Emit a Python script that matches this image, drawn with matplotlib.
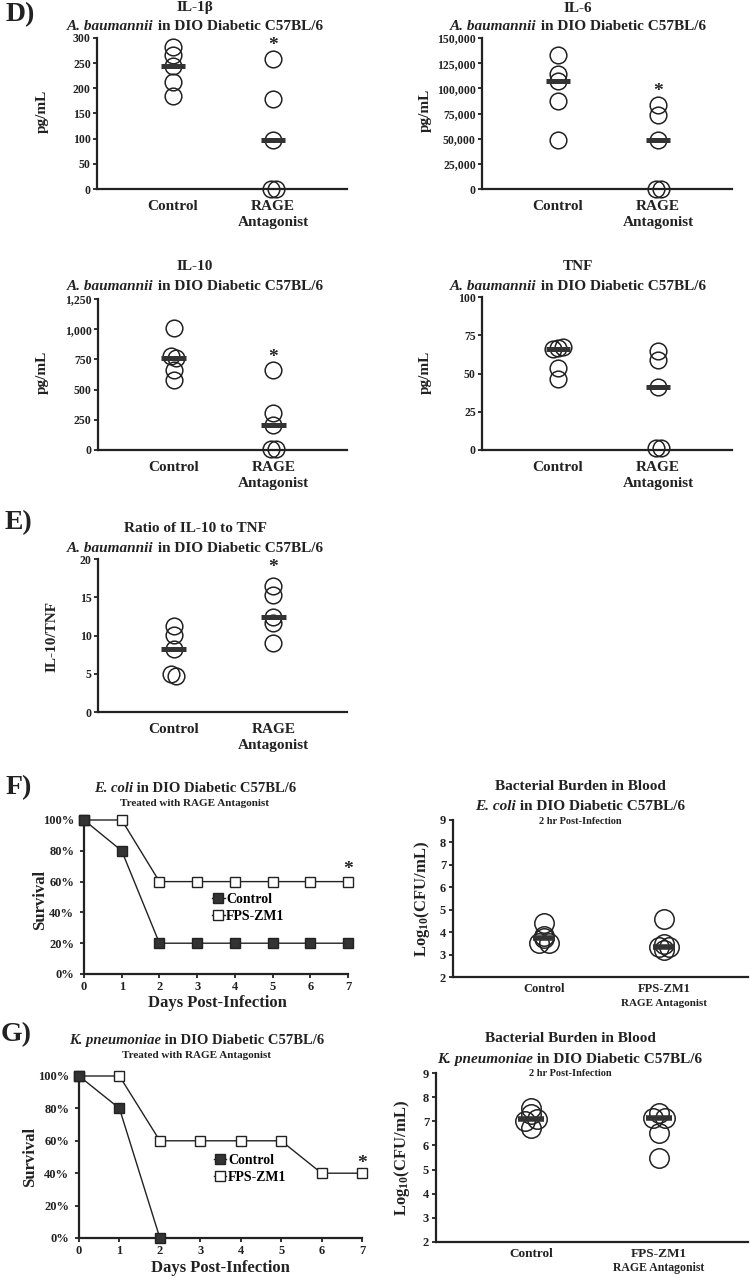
import numpy as np
import matplotlib
matplotlib.use('Agg')
import matplotlib.pyplot as plt
from matplotlib.ticker import FuncFormatter

plt.rcParams['font.family'] = ['Liberation Serif', 'DejaVu Serif']
plt.rcParams['font.weight'] = 'bold'
plt.rcParams['mathtext.fontset'] = 'custom'
plt.rcParams['mathtext.rm'] = 'Liberation Serif:bold'
plt.rcParams['mathtext.it'] = 'Liberation Serif:italic:bold'
plt.rcParams['mathtext.bf'] = 'Liberation Serif:bold'
plt.rcParams['mathtext.default'] = 'rm'

INK = '#222222'
BAR = '#333333'

# ---- data ----
cyto_groups = ['Control', 'RAGE\nAntagonist']
il1b_ctrl = [282, 266, 244, 213, 185]
il1b_rage = [259, 178, 98, 0, 0]
il6_ctrl = [133500, 114000, 107000, 87700, 48800]
il6_rage = [83400, 73500, 48800, 0, 0]
il10_ctrl = [1010, 780, 762, 665, 580]
il10_rage = [663, 309, 205, 12, 12]
tnf_ctrl = [66, 66.5, 67, 53.7, 46.7]
tnf_rage = [65, 59, 41, 1.5, 1.5]
ratio_ctrl = [11.3, 10.1, 8.2, 5.0, 4.7]
ratio_rage = [16.5, 15.3, 12.4, 11.6, 9.0]

days = np.arange(8)
ecoli_surv_ctrl = [100, 80, 20, 20, 20, 20, 20, 20]
ecoli_surv_fps = [100, 100, 60, 60, 60, 60, 60, 60]
kpn_surv_ctrl = [100, 80, 0]
kpn_surv_fps = [100, 100, 60, 60, 60, 60, 40, 40]

burden_groups = ['Control', 'FPS-ZM1']
ecoli_burden_ctrl = [4.42, 3.85, 3.72, 3.53, 3.53]
ecoli_burden_fps = [4.57, 3.48, 3.35, 3.35, 3.2]
kpn_burden_ctrl = [7.53, 7.29, 7.02, 7.08, 6.74]
kpn_burden_fps = [7.36, 7.15, 7.15, 6.5, 5.49]

W, H = 750, 1278
fig = plt.figure(figsize=(W / 100, H / 100), dpi=100)
renderer = fig.canvas.get_renderer()


def add_ax(l, t, r, b):
    return fig.add_axes([l / W, 1 - b / H, (r - l) / W, (b - t) / H])


def ftext(x, y, s, size, **kw):
    kw.setdefault('ha', 'center')
    kw.setdefault('va', 'center')
    return fig.text(x / W, 1 - y / H, s, fontsize=size, color=INK, **kw)


def mixed(x, y, italic, rest, size):
    # italic species name followed by upright text, centred on x, sharing a baseline
    t1 = ftext(0, y, italic, size, style='italic', ha='left', va='center_baseline')
    t2 = ftext(0, y, rest, size, ha='left', va='center_baseline')
    w1 = t1.get_window_extent(renderer).width
    w2 = t2.get_window_extent(renderer).width
    x0 = x - (w1 + w2) / 2
    t1.set_x(x0 / W)
    t2.set_x((x0 + w1) / W)


def style(ax, ysize=8.5, ypad=1.5):
    for s in ['top', 'right']:
        ax.spines[s].set_visible(False)
    for s in ['left', 'bottom']:
        ax.spines[s].set_color(INK)
        ax.spines[s].set_linewidth(1.6)
    ax.tick_params(axis='y', direction='out', length=3, width=1.3, colors=INK,
                   labelsize=ysize, pad=ypad)
    ax.patch.set_alpha(0)


def cluster_offsets(vals, tol, step):
    # spread nearly-equal values sideways so the circles stay visible
    vals = np.asarray(vals, float)
    order = np.argsort(vals, kind='stable')
    offs = np.zeros(len(vals))
    groups = [[order[0]]]
    for a, b in zip(order[:-1], order[1:]):
        if vals[b] - vals[a] < tol:
            groups[-1].append(b)
        else:
            groups.append([b])
    for g in groups:
        g = sorted(g)
        for k, i in enumerate(g):
            offs[i] = (k - (len(g) - 1) / 2) * step
    return offs


def dots(ax, series, ylim, step, half, ms, barw):
    tol = 0.017 * (ylim[1] - ylim[0])
    for pos, vals in enumerate(series, start=1):
        x = pos + cluster_offsets(vals, tol, step)
        ax.plot(x, vals, 'o', ms=ms, mfc='none', mec=INK, mew=1.1,
                clip_on=False, zorder=3)
        med = np.median(vals)
        ax.plot([pos - half, pos + half], [med, med], color=BAR, lw=barw,
                solid_capstyle='butt', zorder=4)
    ax.set_ylim(*ylim)


def cyto_panel(rect, ctrl, rage, ylim, yticks, fmt, ylabel, ylab_xy,
               title, title_pos, star=None):
    ax = add_ax(*rect)
    style(ax)
    ax.set_xlim(0.24, 2.74)
    dots(ax, [ctrl, rage], ylim, 0.05, 0.123, 12, 3.6)
    ax.set_yticks(yticks)
    ax.yaxis.set_major_formatter(FuncFormatter(fmt))
    ax.set_xticks([1, 2])
    ax.set_xticklabels(cyto_groups, fontsize=11, color=INK, linespacing=1.3)
    ax.tick_params(axis='x', length=0, pad=8)
    if star is not None:
        ax.text(2, star, '*', ha='center', va='center', fontsize=14, color=INK)
    ftext(ylab_xy[0], ylab_xy[1], ylabel, 11, rotation=90)
    tx, ty1, ty2 = title_pos
    ftext(tx, ty1, title, 11)
    mixed(tx, ty2, 'A. baumannii', ' in DIO Diabetic C57BL/6', 11)
    return ax


comma = lambda v, p: f'{int(v):,}'

cyto_panel((97, 38, 347, 189), il1b_ctrl, il1b_rage, (0, 300), range(0, 301, 50),
           comma, 'pg/mL', (42, 111), 'IL-1β', (195, 8, 25), star=285.5)
cyto_panel((482, 38, 732, 189), il6_ctrl, il6_rage, (0, 150000),
           range(0, 150001, 25000), comma, 'pg/mL', (425, 110), 'IL-6',
           (578, 8, 25), star=97350)
cyto_panel((98, 299, 347, 450), il10_ctrl, il10_rage, (0, 1250),
           range(0, 1251, 250), comma, 'pg/mL', (42, 372), 'IL-10',
           (195, 267, 285), star=765)
cyto_panel((482, 297, 732, 450), tnf_ctrl, tnf_rage, (0, 100), range(0, 101, 25),
           comma, 'pg/mL', (425, 372), 'TNF', (578, 267, 285))
cyto_panel((98, 559, 347, 712), ratio_ctrl, ratio_rage, (0, 20), range(0, 21, 5),
           comma, 'IL-10/TNF', (52, 637), 'Ratio of IL-10 to TNF',
           (195, 528, 547), star=18.9)


def surv_panel(rect, ctrl, fps, species, title_xy, ylab_xy, xlab_xy, leg_xy, star):
    ax = add_ax(*rect)
    style(ax, ysize=9, ypad=4)
    ax.plot(days[:len(fps)], fps, '-s', color=INK, lw=1, ms=7.5, mfc='white',
            mec=INK, mew=1, clip_on=False, zorder=3, label='FPS-ZM1')
    ax.plot(days[:len(ctrl)], ctrl, '-s', color=INK, lw=1, ms=7.5, mfc=BAR,
            mec=INK, mew=1, clip_on=False, zorder=4, label='Control')
    ax.set_xlim(0, 7)
    ax.set_ylim(0, 100)
    ax.set_yticks(range(0, 101, 20))
    ax.yaxis.set_major_formatter(FuncFormatter(lambda v, p: f'{int(v)}%'))
    ax.set_xticks(days)
    ax.tick_params(axis='x', direction='out', length=3, width=1.3, colors=INK,
                   labelsize=9, pad=2)
    ax.text(7, star, '*', ha='center', va='center', fontsize=14, color=INK)
    h, l = ax.get_legend_handles_labels()
    ax.legend(h[::-1], l[::-1], loc='center left', bbox_to_anchor=leg_xy,
              frameon=False, fontsize=10, handlelength=0.9, handletextpad=0.1,
              borderpad=0, borderaxespad=0, labelspacing=0.3)
    ftext(ylab_xy[0], ylab_xy[1], 'Survival', 12, rotation=90)
    ftext(xlab_xy[0], xlab_xy[1], 'Days Post-Infection', 12)
    tx, ty = title_xy
    mixed(tx, ty, species, ' in DIO Diabetic C57BL/6', 10.5)
    ftext(tx, ty + 16, 'Treated with RAGE Antagonist', 8)
    return ax


surv_panel((84, 820, 348, 974), ecoli_surv_ctrl, ecoli_surv_fps,
           'E. coli', (195, 787), (40, 900), (217, 1003), (0.485, 0.43), 68)
surv_panel((79, 1076, 362, 1238), kpn_surv_ctrl, kpn_surv_fps,
           'K. pneumoniae', (197, 1039), (30, 1157), (220, 1268), (0.477, 0.426), 46)


def burden_panel(rect, ctrl, fps, xlim, step, half, species, title_xy, ylab_xy,
                 lab_size, sub_size):
    ax = add_ax(*rect)
    style(ax, ysize=9, ypad=2)
    ax.set_xlim(*xlim)
    dots(ax, [ctrl, fps], (2, 9), step, half, 14, 4)
    ax.set_yticks(range(2, 10))
    ax.set_xticks([1, 2])
    ax.set_xticklabels(burden_groups, fontsize=lab_size, color=INK)
    ax.tick_params(axis='x', length=0, pad=4)
    ax.annotate('RAGE Antagonist', xy=(2, 0), xycoords=('data', 'axes fraction'),
                xytext=(0, -19), textcoords='offset points', ha='center',
                va='center', fontsize=sub_size, color=INK)
    ftext(ylab_xy[0], ylab_xy[1], r'Log$_{10}$(CFU/mL)', 12, rotation=90)
    tx, ty = title_xy
    ftext(tx, ty, 'Bacterial Burden in Blood', 11)
    mixed(tx, ty + 19, species, ' in DIO Diabetic C57BL/6', 11)
    ftext(tx, ty + 35, '2 hr Post-Infection', 7.5)
    return ax


burden_panel((453, 820, 748, 977), ecoli_burden_ctrl, ecoli_burden_fps,
             (0.242, 2.70), 0.09, 0.09, 'E. coli', (580, 786), (422, 899), 9, 8)
burden_panel((436, 1073, 748, 1242), kpn_burden_ctrl, kpn_burden_fps,
             (0.258, 2.695), 0.1, 0.098, 'K. pneumoniae', (570, 1039),
             (402, 1158), 9.5, 8.5)

for letter, (x, y) in {'D)': (20, 15), 'E)': (18, 523), 'F)': (19, 788),
                       'G)': (16, 1035)}.items():
    ftext(x, y, letter, 20)

fig.savefig('out.png', dpi=100, facecolor='white')
